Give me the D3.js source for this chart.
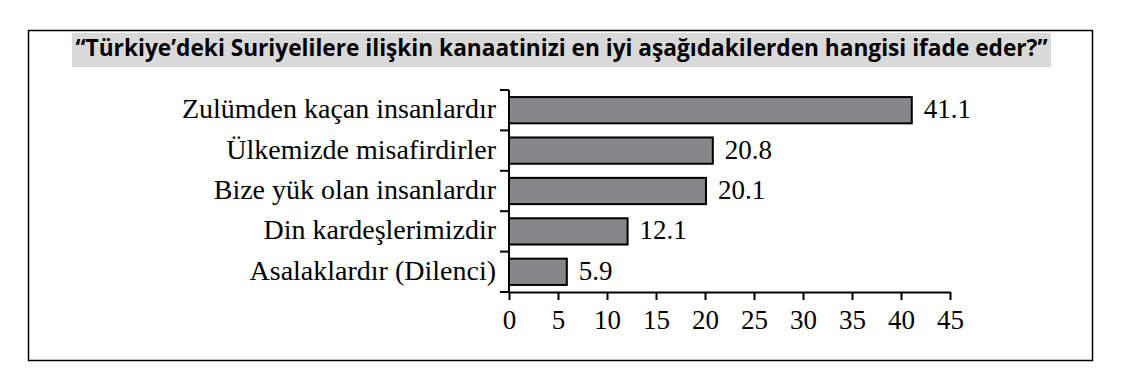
<!DOCTYPE html>
<html>
<head>
<meta charset="utf-8">
<script src="https://cdn.jsdelivr.net/npm/d3@7"></script>
<style>
  html, body { margin: 0; padding: 0; background: #fff; }
  svg { display: block; }
</style>
</head>
<body>
<svg id="chart" width="1126" height="382"></svg>
<script>
// Survey responses (percent)
const categories = [
  "Zulümden kaçan insanlardır",
  "Ülkemizde misafirdirler",
  "Bize yük olan insanlardır",
  "Din kardeşlerimizdir",
  "Asalaklardır (Dilenci)"
];
const values = [41.1, 20.8, 20.1, 12.1, 5.9];
const xTicks = [0, 5, 10, 15, 20, 25, 30, 35, 40, 45];
const title = "“Türkiye’deki Suriyelilere ilişkin kanaatinizi en iyi aşağıdakilerden hangisi ifade eder?”";

const svg = d3.select("#chart");
const serif = "'Liberation Serif', 'DejaVu Serif', serif";

// Outer frame
svg.append("rect")
  .attr("x", 28.5).attr("y", 30.5)
  .attr("width", 1064).attr("height", 330)
  .attr("fill", "none").attr("stroke", "#000").attr("stroke-width", 1.5);

// Title on grey band
svg.append("rect")
  .attr("x", 72).attr("y", 33)
  .attr("width", 979).attr("height", 34)
  .attr("fill", "#d9d9d9");

svg.append("text")
  .attr("x", 561.5).attr("y", 56)
  .attr("text-anchor", "middle")
  .attr("font-family", "'Open Sans', 'Noto Sans', sans-serif")
  .attr("font-weight", "bold")
  .attr("font-size", 23)
  .attr("textLength", 972)
  .attr("lengthAdjust", "spacingAndGlyphs")
  .attr("fill", "#000")
  .text(title);

// Scales
const x = d3.scaleLinear().domain([0, 45]).range([509, 950]);
const y = d3.scaleBand().domain(categories).range([90, 292]).paddingInner(0.35).paddingOuter(0.175);

// Bars
svg.append("g").selectAll("rect")
  .data(values)
  .join("rect")
  .attr("x", x(0))
  .attr("y", (d, i) => y(categories[i]))
  .attr("width", d => x(d) - x(0))
  .attr("height", y.bandwidth())
  .attr("fill", "#87878a")
  .attr("stroke", "#000")
  .attr("stroke-width", 2);

// Value labels
svg.append("g").selectAll("text")
  .data(values)
  .join("text")
  .attr("x", d => x(d) + 12)
  .attr("y", (d, i) => y(categories[i]) + y.bandwidth() / 2 + 8)
  .attr("font-family", serif)
  .attr("font-size", 27)
  .attr("fill", "#000")
  .text(d => d.toFixed(1));

// Y axis: ticks at band boundaries
const yAxisG = svg.append("g");
yAxisG.append("line")
  .attr("x1", x(0)).attr("x2", x(0))
  .attr("y1", 90).attr("y2", 293)
  .attr("stroke", "#000").attr("stroke-width", 2);
const step = y.step();
const bounds = d3.range(categories.length + 1).map(i => y(categories[0]) - y.paddingOuter() * step + i * step);
yAxisG.selectAll("line.tick")
  .data(bounds)
  .join("line")
  .attr("class", "tick")
  .attr("x1", x(0) - 9).attr("x2", x(0))
  .attr("y1", d => d).attr("y2", d => d)
  .attr("stroke", "#000").attr("stroke-width", 2);

// Category labels
svg.append("g").selectAll("text")
  .data(categories)
  .join("text")
  .attr("x", 496)
  .attr("y", d => y(d) + y.bandwidth() / 2 + 8)
  .attr("text-anchor", "end")
  .attr("font-family", serif)
  .attr("font-size", 28)
  .attr("fill", "#000")
  .text(d => d);

// X axis
const xAxis = d3.axisBottom(x).tickValues(xTicks).tickSize(8).tickSizeOuter(0).tickFormat(d3.format("d"));
const xg = svg.append("g").attr("transform", "translate(0,292)").call(xAxis);
xg.select(".domain").attr("stroke", "#000").attr("stroke-width", 2);
xg.selectAll(".tick line").attr("stroke", "#000").attr("stroke-width", 2);
xg.selectAll(".tick text")
  .attr("font-family", serif)
  .attr("font-size", 27)
  .attr("fill", "#000")
  .attr("dy", "0")
  .attr("y", 37);
</script>
</body>
</html>
